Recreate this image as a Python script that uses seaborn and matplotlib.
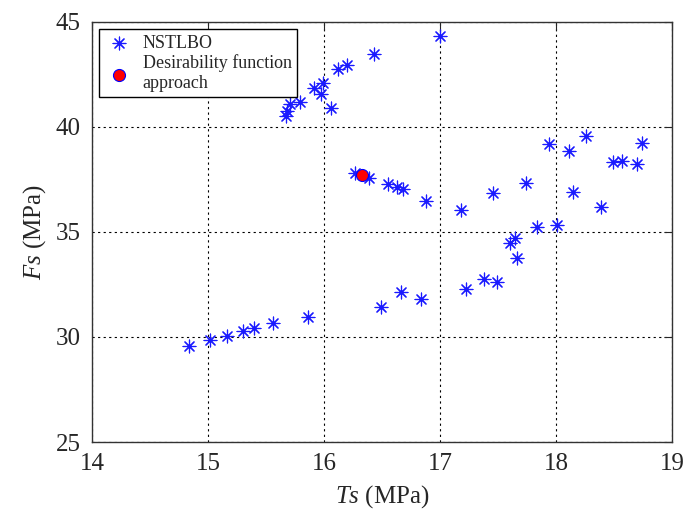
import matplotlib
matplotlib.use("Agg")
import matplotlib.pyplot as plt
import seaborn as sns
import pandas as pd

# NSTLBO Pareto points (Ts, Fs)
ts_nstlbo = [14.84, 15.02, 15.16, 15.30, 15.40, 15.56, 15.86,
             15.67, 15.68, 15.71, 15.79, 15.91, 15.97, 15.99, 16.06, 16.12, 16.20, 16.43, 17.00,
             16.27, 16.39, 16.55, 16.63, 16.68, 16.88, 17.18, 17.46, 17.74,
             16.49, 16.66, 16.84, 17.22, 17.38, 17.49, 17.60, 17.65, 17.66, 17.84, 18.01,
             17.94, 18.11, 18.26, 18.15, 18.39, 18.49, 18.57, 18.70, 18.74]
fs_nstlbo = [29.59, 29.86, 30.06, 30.29, 30.44, 30.68, 30.97,
             40.54, 40.76, 41.08, 41.21, 41.87, 41.56, 42.11, 40.92, 42.75, 42.95, 43.46, 44.35,
             37.83, 37.56, 37.27, 37.16, 37.05, 36.48, 36.05, 36.87, 37.32,
             31.44, 32.13, 31.79, 32.29, 32.76, 32.60, 34.49, 34.70, 33.75, 35.22, 35.33,
             39.19, 38.86, 39.59, 36.92, 36.21, 38.32, 38.40, 38.24, 39.25]

# Desirability function approach
ts_desir = [16.33]
fs_desir = [37.70]

df = pd.DataFrame({"Ts": ts_nstlbo, "Fs": fs_nstlbo})
df_d = pd.DataFrame({"Ts": ts_desir, "Fs": fs_desir})

sns.set_style("white")
plt.rcParams["font.family"] = ["Liberation Serif", "DejaVu Serif"]
plt.rcParams["mathtext.fontset"] = "custom"
plt.rcParams["mathtext.it"] = "Liberation Serif:italic"
plt.rcParams["mathtext.rm"] = "Liberation Serif"

fig = plt.figure(figsize=(6.99, 5.16), dpi=100)
ax = fig.add_axes([0.1316, 0.1434, 0.8298, 0.814])

sns.scatterplot(data=df, x="Ts", y="Fs", marker=(8, 2, 0), s=85, color="#1a1aff",
                linewidth=0.85, edgecolor="#1a1aff", ax=ax, label="NSTLBO", zorder=3)
sns.scatterplot(data=df_d, x="Ts", y="Fs", marker="o", s=75, color="red",
                edgecolor="blue", linewidth=0.8, ax=ax,
                label="Desirability function\napproach", zorder=4)

ax.set_xlim(14, 19)
ax.set_ylim(25, 45)
ax.set_xticks([14, 15, 16, 17, 18, 19])
ax.set_yticks([25, 30, 35, 40, 45])
ax.grid(True, color="black", linestyle=(0, (2, 3)), linewidth=0.8)
ax.tick_params(direction="in", top=True, right=True, length=6, labelsize=18, pad=8)
for sp in ax.spines.values():
    sp.set_color("#333333")
    sp.set_linewidth(1.0)

ax.set_xlabel(r"$\it{Ts}$ (MPa)", fontsize=18, labelpad=6)
ax.set_ylabel(r"$\it{Fs}$ (MPa)", fontsize=18, labelpad=6)

leg = ax.legend(loc="upper left", fontsize=13, frameon=True, fancybox=False,
                edgecolor="black", framealpha=1, handletextpad=0.5,
                borderaxespad=0.4, labelspacing=0.15, handlelength=1.6,
                borderpad=0.3)
leg.get_frame().set_linewidth(1.0)
leg.set_zorder(10)

fig.savefig("out.png", dpi=100)
